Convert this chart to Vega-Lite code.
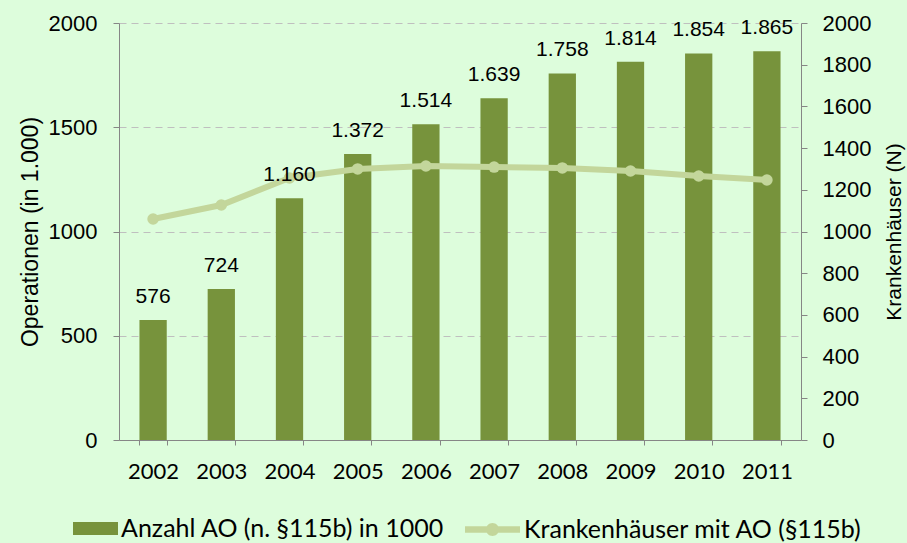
{
  "$schema": "https://vega.github.io/schema/vega-lite/v6.json",
  "width": 682,
  "height": 417,
  "autosize": {"type": "none"},
  "padding": {"left": 119, "top": 23, "right": 106, "bottom": 103},
  "background": "#DDFDDC",
  "config": {
    "view": {"stroke": null},
    "locale": {"number": {"decimal": ",", "thousands": ".", "grouping": [3], "currency": ["", " €"]}},
    "axis": {"domainColor": "#868686", "tickColor": "#868686", "labelColor": "#000000", "titleColor": "#000000", "labelFont": "Liberation Sans", "titleFont": "Liberation Sans", "labelFontSize": 22, "titleFontSize": 22, "titleFontWeight": "normal"},
    "legend": {"labelFont": "Lato", "labelFontSize": 25, "labelColor": "#000000", "padding": 0, "labelLimit": 0}
  },
  "data": {"values": [
    {"year": "2002", "ops": 576, "kh": 1060},
    {"year": "2003", "ops": 724, "kh": 1127},
    {"year": "2004", "ops": 1160, "kh": 1257},
    {"year": "2005", "ops": 1372, "kh": 1300},
    {"year": "2006", "ops": 1514, "kh": 1314},
    {"year": "2007", "ops": 1639, "kh": 1309},
    {"year": "2008", "ops": 1758, "kh": 1305},
    {"year": "2009", "ops": 1814, "kh": 1290},
    {"year": "2010", "ops": 1854, "kh": 1266},
    {"year": "2011", "ops": 1865, "kh": 1247}
  ]},
  "encoding": {
    "x": {"field": "year", "type": "ordinal", "scale": {"paddingInner": 0.6, "paddingOuter": 0.3},
      "axis": {"title": null, "labelAngle": 0, "labelFont": "Lato", "labelFontSize": 22, "labelPadding": 16, "tickBand": "extent", "tickSize": 5}}
  },
  "layer": [
    {
      "mark": {"type": "bar"},
      "encoding": {
        "y": {"field": "ops", "type": "quantitative", "scale": {"domain": [0, 2000], "nice": false},
          "axis": {"title": "Operationen (in 1.000)", "titleFontSize": 23, "values": [0, 500, 1000, 1500, 2000], "format": "d", "grid": true, "gridColor": "#BFBFBF", "gridDash": [7, 5], "tickSize": 6, "labelPadding": 16, "titlePadding": 6}},
        "fill": {"datum": "Anzahl AO (n. §115b) in 1000", "type": "nominal", "scale": {"range": ["#77933C"]},
          "legend": {"title": null, "orient": "none", "legendX": -46, "legendY": 483, "symbolType": "M-1,-0.29H1V0.29H-1Z", "symbolSize": 2025, "symbolStrokeWidth": 0, "labelOffset": 3}}
      }
    },
    {
      "encoding": {
        "y": {"field": "kh", "type": "quantitative", "scale": {"domain": [0, 2000], "nice": false},
          "axis": {"orient": "right", "title": "Krankenhäuser (N)", "titleFontSize": 21, "titleAngle": 270, "titleBaseline": "top", "values": [0, 200, 400, 600, 800, 1000, 1200, 1400, 1600, 1800, 2000], "format": "d", "grid": false, "tickSize": 6, "labelPadding": 15, "titlePadding": 13}}
      },
      "layer": [
        {"mark": {"type": "line", "strokeWidth": 6},
         "encoding": {"stroke": {"datum": "Krankenhäuser mit AO (§115b)", "type": "nominal", "scale": {"range": ["#C3D69B"]},
           "legend": {"title": null, "orient": "none", "legendX": 346, "legendY": 479, "symbolType": "M-1,-0.118H1V0.118H-1Z M-0.236,0A0.236,0.236 0 1,1 0.236,0A0.236,0.236 0 1,1 -0.236,0Z", "symbolSize": 3025, "symbolStrokeWidth": 0, "labelOffset": 4,
             "encode": {"symbols": {"update": {"fill": {"value": "#C3D69B"}, "strokeWidth": {"value": 0}}}}}}}},
        {"mark": {"type": "point", "filled": true, "size": 133, "opacity": 1, "color": "#C3D69B"}}
      ]
    },
    {
      "mark": {"type": "text", "baseline": "middle", "dy": -23, "font": "Liberation Sans", "fontSize": 21, "color": "#000000"},
      "encoding": {
        "y": {"field": "ops", "type": "quantitative", "scale": {"domain": [0, 2000], "nice": false}, "axis": null},
        "text": {"field": "ops", "type": "quantitative", "format": ",d"}
      }
    }
  ],
  "resolve": {"scale": {"y": "independent"}}
}
